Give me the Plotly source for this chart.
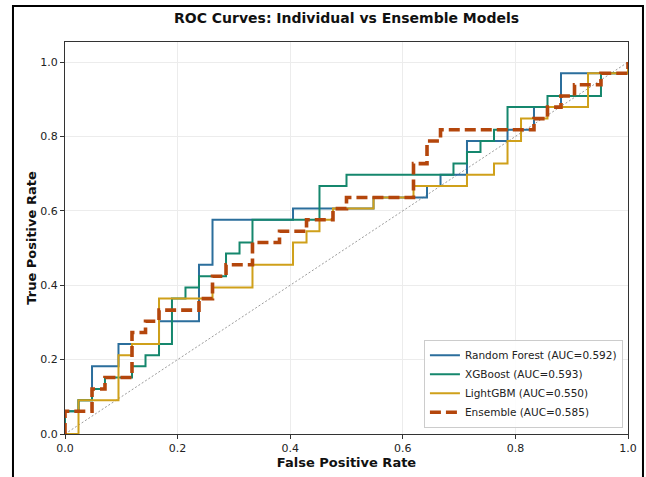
import plotly.graph_objects as go

# ---- data ----
model_names = ["Random Forest", "XGBoost", "LightGBM", "Ensemble"]
auc_values = [0.592, 0.593, 0.550, 0.585]

rf_fpr = [0, 0, .024, .024, .048, .048, .095, .095, .167, .167, .238, .238, .262, .262, .405, .405,
          .548, .548, .643, .643, .667, .667, .714, .714, .786, .786, .833, .833, .881, .881, 1, 1]
rf_tpr = [0, .061, .061, .091, .091, .182, .182, .242, .242, .303, .303, .455, .455, .576, .576, .606,
          .606, .636, .636, .667, .667, .697, .697, .788, .788, .818, .818, .879, .879, .970, .970, 1]

xgb_fpr = [0, 0, .024, .024, .048, .048, .071, .071, .119, .119, .143, .143, .167, .167, .190, .190,
           .214, .214, .238, .238, .286, .286, .310, .310, .333, .333, .452, .452, .500, .500, .690, .690,
           .714, .714, .738, .738, .762, .762, .786, .786, .857, .857, .952, .952, 1, 1]
xgb_tpr = [0, .061, .061, .091, .091, .121, .121, .152, .152, .182, .182, .212, .212, .242, .242, .364,
           .364, .394, .394, .424, .424, .485, .485, .515, .515, .576, .576, .667, .667, .697, .697, .727,
           .727, .758, .758, .788, .788, .818, .818, .879, .879, .909, .909, .970, .970, 1]

lgbm_fpr = [0, .024, .024, .095, .095, .119, .119, .167, .167, .262, .262, .333, .333, .405, .405, .429,
            .429, .452, .452, .476, .476, .548, .548, .619, .619, .714, .714, .762, .762, .786, .786, .810,
            .810, .857, .857, .929, .929, 1, 1]
lgbm_tpr = [0, 0, .091, .091, .212, .212, .242, .242, .364, .364, .394, .394, .455, .455, .515, .515,
            .545, .545, .576, .576, .606, .606, .636, .636, .667, .667, .697, .697, .727, .727, .788, .788,
            .848, .848, .879, .879, .970, .970, 1]

ens_fpr = [0, 0, .048, .048, .071, .071, .119, .119, .143, .143, .167, .167, .238, .238, .262, .262,
           .286, .286, .333, .333, .381, .381, .429, .429, .476, .476, .500, .500, .619, .619, .643, .643,
           .667, .667, .833, .833, .857, .857, .881, .881, .905, .905, .952, .952, 1, 1]
ens_tpr = [0, .061, .061, .121, .121, .152, .152, .273, .273, .303, .303, .333, .333, .364, .364, .424,
           .424, .455, .455, .515, .515, .545, .545, .576, .576, .606, .606, .636, .636, .727, .727, .788,
           .788, .818, .818, .848, .848, .879, .879, .909, .909, .939, .939, .970, .970, 1]

diag = [0, 1]

colors = ["#2B6E9C", "#15876D", "#CFA01A", "#B4460C"]
series = [(rf_fpr, rf_tpr), (xgb_fpr, xgb_tpr), (lgbm_fpr, lgbm_tpr), (ens_fpr, ens_tpr)]

fig = go.Figure()

fig.add_trace(go.Scatter(x=diag, y=diag, mode="lines", showlegend=False,
                         line=dict(color="rgba(130,130,130,0.8)", width=1.0, dash="2px,2px"),
                         hoverinfo="skip"))

for i, (name, auc, (fx, ty)) in enumerate(zip(model_names, auc_values, series)):
    if name == "Ensemble":
        line = dict(color=colors[i], width=3.6, dash="11px,5px")
    else:
        line = dict(color=colors[i], width=2.0)
    fig.add_trace(go.Scatter(x=fx, y=ty, mode="lines", name=f"{name} (AUC={auc:.3f})", line=line))

axis_common = dict(
    showline=True, linecolor="#333333", linewidth=1.3, mirror=True,
    ticks="outside", ticklen=4, tickwidth=1.1, tickcolor="#333333",
    showgrid=True, gridcolor="#ececec", gridwidth=0.8, zeroline=False,
    tickfont=dict(family="DejaVu Sans", size=11, color="#222222"),
    tickformat=".1f", automargin=False,
)

fig.update_xaxes(range=[0, 1], tickvals=[0, 0.2, 0.4, 0.6, 0.8, 1.0],
                 title=dict(text="<b>False Positive Rate</b>", standoff=3,
                            font=dict(family="DejaVu Sans", size=13, color="#111111")),
                 **axis_common)
fig.update_yaxes(range=[0, 1.054], tickvals=[0, 0.2, 0.4, 0.6, 0.8, 1.0],
                 title=dict(text="<b>True Positive Rate</b>", standoff=0,
                            font=dict(family="DejaVu Sans", size=13, color="#111111")),
                 **axis_common)

fig.update_layout(
    width=646, height=477,
    margin=dict(l=65, r=18, t=42, b=43, autoexpand=False),
    paper_bgcolor="white", plot_bgcolor="white",
    title=dict(text="<b>ROC Curves: Individual vs Ensemble Models</b>", x=0.5364, xanchor="center",
               y=0.962, yanchor="middle",
               font=dict(family="DejaVu Sans", size=14, color="#111111")),
    legend=dict(x=0.991, y=0.016, xanchor="right", yanchor="bottom",
                bgcolor="rgba(255,255,255,0.9)", bordercolor="#cccccc", borderwidth=1,
                font=dict(family="DejaVu Sans", size=10.5, color="#222222"),
                tracegroupgap=0, itemwidth=30),
    shapes=[dict(type="rect", xref="paper", yref="paper",
                 x0=-0.0924, x1=1.0266, y0=-0.2, y1=1.0918,
                 line=dict(color="black", width=2), layer="above")],
)

fig.write_html("out.html", config={"displayModeBar": False},
               post_script="document.body.style.margin='0px';document.body.style.overflow='hidden';")
